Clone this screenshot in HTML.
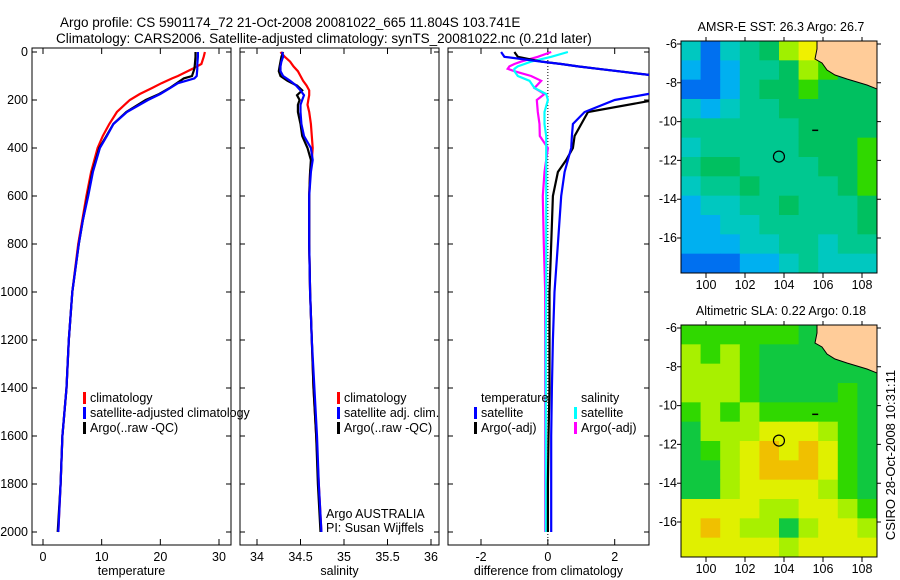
<!DOCTYPE html>
<html><head><meta charset="utf-8"><style>
html,body{margin:0;padding:0;background:#fff;}
svg{display:block;font-family:"Liberation Sans",sans-serif;}
</style></head><body>
<svg id="fig" width="900" height="580" viewBox="0 0 900 580" xmlns="http://www.w3.org/2000/svg">
<text x="60" y="27" font-size="13.5">Argo profile: CS 5901174_72 21-Oct-2008 20081022_665 11.804S 103.741E</text>
<text x="56" y="43" font-size="13.5">Climatology: CARS2006. Satellite-adjusted climatology: synTS_20081022.nc (0.21d later)</text>
<g id="g"></g>
<text transform="translate(895,455) rotate(-90)" text-anchor="middle" font-size="13">CSIRO 28-Oct-2008 10:31:11</text>
</svg>
<script>
// ---- data ----
var depthT=[0,20,50,70,100,110,130,150,175,200,250,300,350,400,500,600,700,800,1000,1200,1400,1600,1800,2000];
var argoT=[26.0,26.0,25.9,25.8,25.4,24.0,22.8,21.6,19.8,17.5,14.2,12.0,10.8,9.6,8.4,7.6,6.8,6.1,5.0,4.4,4.0,3.3,3.0,2.5];
var satT=[26.4,26.4,26.3,26.3,26.2,25.8,23.0,21.7,20.0,17.9,14.3,12.0,10.9,9.7,8.5,7.7,6.8,6.1,5.0,4.4,4.0,3.3,3.0,2.6];
var climT=[27.6,27.4,27.0,25.5,23.0,22.0,20.2,18.6,16.5,14.8,12.6,11.3,10.2,9.3,8.2,7.4,6.7,6.0,5.0,4.4,4.0,3.3,3.0,2.6];
var depthS=[0,20,40,60,80,100,120,140,160,180,200,220,250,300,350,400,450,500,600,800,1000,1200,1400,1600,1800,2000];
var climS=[34.27,34.32,34.38,34.42,34.47,34.5,34.53,34.57,34.6,34.6,34.59,34.58,34.6,34.62,34.63,34.64,34.63,34.61,34.6,34.6,34.61,34.63,34.65,34.68,34.71,34.74];
var satS=[34.29,34.3,34.28,34.27,34.27,34.3,34.38,34.45,34.5,34.54,34.52,34.5,34.5,34.51,34.54,34.62,34.64,34.62,34.6,34.6,34.61,34.63,34.66,34.69,34.71,34.74];
var argoS=[34.3,34.28,34.27,34.26,34.25,34.27,34.35,34.46,34.52,34.46,34.49,34.47,34.47,34.5,34.52,34.58,34.62,34.61,34.6,34.6,34.61,34.63,34.65,34.68,34.7,34.73];
var depthD=[0,20,40,50,60,70,80,100,120,150,175,200,250,300,350,400,450,500,600,800,1000,1200,1400,1600,1800,2000];
var satTd=[-1.4,-1.3,-0.2,0.4,0.9,1.5,2.1,3.3,4,4,3.0,2.0,1.1,0.75,0.72,0.7,0.6,0.5,0.4,0.3,0.2,0.15,0.12,0.1,0.1,0.1];
var argoTd=[-1.0,-0.9,-0.2,0.4,0.9,1.5,2.1,3.3,4,4,4,3.2,1.2,1.0,0.8,0.75,0.55,0.3,0.15,0.1,0.05,0.05,0.05,0.02,0.0,0.0];
var satSd=[0.6,0.1,-0.5,-0.7,-0.9,-1.0,-1.0,-0.9,-0.55,-0.4,-0.05,0.0,-0.1,-0.1,-0.05,-0.05,-0.05,-0.05,-0.05,-0.05,-0.05,-0.06,-0.06,-0.06,-0.06,-0.06];
var argoSd=[0.1,-0.3,-0.8,-1.0,-1.15,-1.2,-1.0,-0.5,-0.2,-0.4,-0.1,-0.33,-0.3,-0.25,-0.24,0.0,-0.05,-0.1,-0.15,-0.12,-0.08,-0.08,-0.08,-0.08,-0.08,-0.08];
var depthTicks=[0,200,400,600,800,1000,1200,1400,1600,1800,2000];
var tTicks=[0,10,20,30];
var sTicks=[34,34.5,35,35.5,36];
var dTicks=[-2,0,2];
var lonTicks=[100,102,104,106,108];
var latTicks=[-6,-8,-10,-12,-14,-16];
var sstGrid=[
[3,1,3,4,5,7,8,8,9,9],
[2,1,2,4,4,5,7,6,5,5],
[1,1,2,4,5,5,6,5,5,5],
[3,2,3,4,4,5,5,5,5,5],
[4,4,4,4,4,4,5,5,5,5],
[3,4,4,4,4,4,5,5,5,6],
[4,5,5,4,4,4,4,5,5,6],
[3,4,4,5,4,4,4,4,5,6],
[2,3,3,4,4,5,4,4,4,5],
[2,2,3,3,4,4,4,4,4,5],
[2,2,2,3,3,4,4,3,4,4],
[1,1,1,2,2,3,4,3,3,3]];
var slaGrid=[
[6,6,6,6,6,6,5,5,5,5],
[7,6,7,6,5,5,5,5,5,5],
[7,7,7,6,5,5,5,5,5,5],
[7,7,7,6,5,5,5,5,6,5],
[6,7,6,7,6,6,6,6,6,5],
[5,7,7,7,8,8,8,7,6,5],
[5,6,7,8,9,8,9,8,6,5],
[5,5,7,8,9,9,9,8,6,5],
[5,5,7,8,8,8,8,7,6,5],
[8,8,8,8,7,7,8,8,7,6],
[8,9,8,7,7,5,7,8,8,7],
[8,8,8,8,8,7,8,8,8,8]];
var sstPal=['#0030c0','#0070f0','#00b0f0','#00c8c0','#00c890','#00c060','#30d800','#a0f000','#f0f000','#f0a000','#d06000'];
var slaPal=['#0030c0','#0070f0','#00b0f0','#00c8c0','#00c890','#10c840','#30d800','#a8f000','#e0f000','#f0c000','#f0a000'];

// ---- helpers ----
var NS='http://www.w3.org/2000/svg';
var G=document.getElementById('g');
function mk(t,a,p){var e=document.createElementNS(NS,t);for(var k in a)e.setAttribute(k,a[k]);(p||G).appendChild(e);return e;}
var Y0=52,YS=0.24,TOP=48,BOT=545;
function yD(d){return Y0+d*YS;}

function panel(name,L,R,x0px,x1px,v0,v1,ticks,label,showY){
  function xs(v){return x0px+(v-v0)*(x1px-x0px)/(v1-v0);}
  var frame=mk('rect',{x:L,y:TOP,width:R-L,height:BOT-TOP,fill:'none',stroke:'#000','stroke-width':1});
  
  
  ticks.forEach(function(v){
    var x=xs(v);
    var t=mk('path',{d:'M'+x+' '+BOT+'v-6M'+x+' '+TOP+'v6',stroke:'#000'});
    
    
    var tl=mk('text',{x:x,y:BOT+16,'text-anchor':'middle','font-size':12.5});
    tl.textContent=String(v);
    
    
  });
  depthTicks.forEach(function(d){
    var y=yD(d);
    var t=mk('path',{d:'M'+L+' '+y+'h5M'+R+' '+y+'h-5',stroke:'#000'});
    
    
    if(showY){
      var tl=mk('text',{x:L-4,y:y+4,'text-anchor':'end','font-size':12.5});
      tl.textContent=String(d);
      
      
    }
  });
  var xl=mk('text',{x:(L+R)/2,y:575,'text-anchor':'middle','font-size':12.5});
  xl.textContent=label;
  
  
  return xs;
}
function clipRect(id,L,T,W,H){var c=mk('clipPath',{id:id});mk('rect',{x:L,y:T,width:W,height:H},c);}
function line(name,xs,vals,depths,color,clip){
  var pts=vals.map(function(v,i){return xs(v).toFixed(1)+','+yD(depths[i]).toFixed(1);}).join(' ');
  var p=mk('polyline',{points:pts,fill:'none',stroke:color,'stroke-width':2.2,'clip-path':'url(#'+clip+')'});
  
  
}
function legend(name,x,y,items){
  items.forEach(function(it,i){
    var yy=y+i*15;
    if(it[1]){var m=mk('rect',{x:x,y:yy-10,width:3,height:12,fill:it[1]});
      
      }
    var t=mk('text',{x:x+7,y:yy,'font-size':12.5});t.textContent=it[0];
    
    
  });
}

// panel 1: temperature
clipRect('c1',32,48,199,497);
var xT=panel('temperature-panel',32,231,43,219,0,30,tTicks,'temperature',true);
line('climatology-temperature-line',xT,climT,depthT,'#ff0000','c1');
line('argo-temperature-line',xT,argoT,depthT,'#000000','c1');
line('satellite-temperature-line',xT,satT,depthT,'#0000ff','c1');
legend('temperature-legend',83,402,[['climatology','#f00'],['satellite-adjusted climatology','#00f'],['Argo(..raw -QC)','#000']]);

// panel 2: salinity
clipRect('c2',240,48,199,497);
var xS=panel('salinity-panel',240,439,257,431,34,36,sTicks,'salinity',false);
line('climatology-salinity-line',xS,climS,depthS,'#ff0000','c2');
line('argo-salinity-line',xS,argoS,depthS,'#000000','c2');
line('satellite-salinity-line',xS,satS,depthS,'#0000ff','c2');
legend('salinity-legend',337,402,[['climatology','#f00'],['satellite adj. clim.','#00f'],['Argo(..raw -QC)','#000']]);
var a1=mk('text',{x:326,y:518,'font-size':12.5});a1.textContent='Argo AUSTRALIA';


var a2=mk('text',{x:326,y:532,'font-size':12.5});a2.textContent='PI: Susan Wijffels';



// panel 3: differences
clipRect('c3',448,48,201,497);
var xD=panel('difference-panel',448,649,481,614.7,-2,2,dTicks,'difference from climatology',false);
var zl=mk('line',{x1:xD(0),y1:TOP,x2:xD(0),y2:BOT,stroke:'#000','stroke-dasharray':'1,2','stroke-width':1});


line('argo-salinity-diff-line',xD,argoSd,depthD,'#ff00ff','c3');
line('satellite-salinity-diff-line',xD,satSd,depthD,'#00ffff','c3');
line('argo-temperature-diff-line',xD,argoTd,depthD,'#000000','c3');
line('satellite-temperature-diff-line',xD,satTd,depthD,'#0000ff','c3');
legend('temperature-diff-legend',474,402,[['temperature',null],['satellite','#00f'],['Argo(-adj)','#000']]);
legend('salinity-diff-legend',574,402,[['salinity',null],['satellite','#0ff'],['Argo(-adj)','#f0f']]);

// maps
function map(name,T,grid,pal,title){
  var L=681,R=877,B=T+232;
  function lx(v){return 706+(v-100)*19.5;}
  function ly(v){return T+3+(-6-v)*19.4;}
  clipRect(name+'-clip',L,T,R-L,B-T);
  var g=mk('g',{'clip-path':'url(#'+name+'-clip)'});
  var rows=grid.length,cols=grid[0].length,cw=(R-L)/cols,ch=(B-T)/rows;
  grid.forEach(function(row,r){row.forEach(function(v,c){
    var cell=mk('rect',{x:L+c*cw,y:T+r*ch,width:cw+0.5,height:ch+0.5,fill:pal[v]},g);
    
    
  });});
  var land=mk('path',{d:'M'+(L+136)+' '+T+'L'+R+' '+T+'L'+R+' '+(T+48)+'L'+(R-10)+' '+(T+44)+'L'+(R-30)+' '+(T+38)+'L'+(R-42)+' '+(T+34)+'L'+(R-50)+' '+(T+29)+'L'+(R-55)+' '+(T+22)+'L'+(R-62)+' '+(T+18)+'L'+(R-60)+' '+(T+8)+'Z',fill:'#ffcc99',stroke:'#000','stroke-width':1},g);
  
  
  var isl=mk('path',{d:'M'+(lx(105.6)-3)+' '+ly(-10.45)+'h6',stroke:'#000','stroke-width':1.5},g);
  
  
  var fr=mk('rect',{x:L,y:T,width:R-L,height:B-T,fill:'none',stroke:'#000'});
  
  
  var circ=mk('circle',{cx:lx(103.741),cy:ly(-11.804),r:5.5,fill:'none',stroke:'#000','stroke-width':1.2});
  
  
  lonTicks.forEach(function(v){
    var t=mk('path',{d:'M'+lx(v)+' '+B+'v5M'+lx(v)+' '+T+'v-4',stroke:'#000'});
    
    
    var tl=mk('text',{x:lx(v),y:B+16,'text-anchor':'middle','font-size':12.5});tl.textContent=String(v);
    
    
  });
  latTicks.forEach(function(v){
    var t=mk('path',{d:'M'+L+' '+ly(v)+'h-4M'+R+' '+ly(v)+'h4',stroke:'#000'});
    
    
    var tl=mk('text',{x:L-4,y:ly(v)+4,'text-anchor':'end','font-size':12.5});tl.textContent=String(v);
    
    
  });
  var tt=mk('text',{x:(L+R)/2+2,y:T-10,'text-anchor':'middle','font-size':12.5});tt.textContent=title;
  
  
}
map('sst-map',41,sstGrid,sstPal,'AMSR-E SST: 26.3 Argo: 26.7');
map('sla-map',325,slaGrid,slaPal,'Altimetric SLA: 0.22 Argo: 0.18');
</script>
</body></html>
